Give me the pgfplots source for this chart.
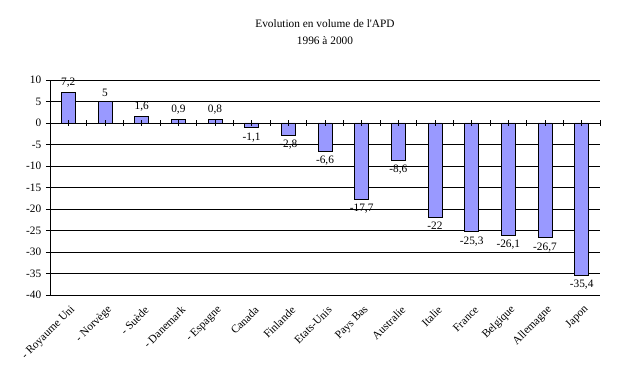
\documentclass[border=0pt]{standalone}
\usepackage{fontspec}
\setmainfont{Liberation Serif}
\usepackage{pgfplots}
\pgfplotsset{compat=1.18}
\begin{document}
\begin{tikzpicture}[x=0.75pt,y=0.75pt]
\path[use as bounding box] (0,0) rectangle (643,391);
\node[align=center,font=\fontsize{8.5}{13}\selectfont] at (325,359) {Evolution en volume de l\textquotesingle APD\\1996 à 2000};
\begin{axis}[
  at={(50pt*0.75,96pt*0.75)}, anchor=south west,
  scale only axis, width=412.5pt, height=161.25pt,
  ybar, bar width=10.5pt,
  xmin=-0.5, xmax=14.5, ymin=-40, ymax=10,
  ytick={-40,-35,...,10},
  ymajorgrids, grid style={black, line width=0.6pt},
  axis y line*=left, axis x line*=bottom,
  x axis line style={draw=none},
  y axis line style={line width=0.6pt,-},
  ytick style={black, line width=0.6pt},
  xtick style={draw=none},
  tick align=outside, major tick length=3pt,
  xtick={0,...,14},
  xticklabels={- Royaume Uni,- Norvège,- Suède,- Danemark,- Espagne,Canada,Finlande,Etats-Unis,Pays Bas,Australie,Italie,France,Belgique,Allemagne,Japon},
  xticklabel style={rotate=45, anchor=east, font=\fontsize{8.5}{10}\selectfont, inner sep=1pt, yshift=-7.5pt, xshift=-1pt},
  /pgf/number format/assume math mode=true,
  yticklabel style={font=\fontsize{8.5}{10}\selectfont},
  nodes near coords,
  nodes near coords style={font=\fontsize{8.5}{10}\selectfont, /pgf/number format/.cd, fixed, precision=1, use comma, assume math mode=true},
  clip=false,
]
\addplot[fill={rgb,255:red,153;green,153;blue,255}, draw=black, line width=0.6pt] coordinates {
(0,7.2) (1,5) (2,1.6) (3,0.9) (4,0.8) (5,-1.1) (6,-2.8) (7,-6.6) (8,-17.7) (9,-8.6) (10,-22) (11,-25.3) (12,-26.1) (13,-26.7) (14,-35.4)};
\draw[line width=0.6pt] (axis cs:-0.5,0) -- (axis cs:14.5,0);
\pgfplotsinvokeforeach{-0.5,0,...,14.5}{
  \draw[line width=0.6pt] ([yshift=-2pt]axis cs:#1,0) -- ([yshift=2pt]axis cs:#1,0);
}
\end{axis}
\end{tikzpicture}
\end{document}
